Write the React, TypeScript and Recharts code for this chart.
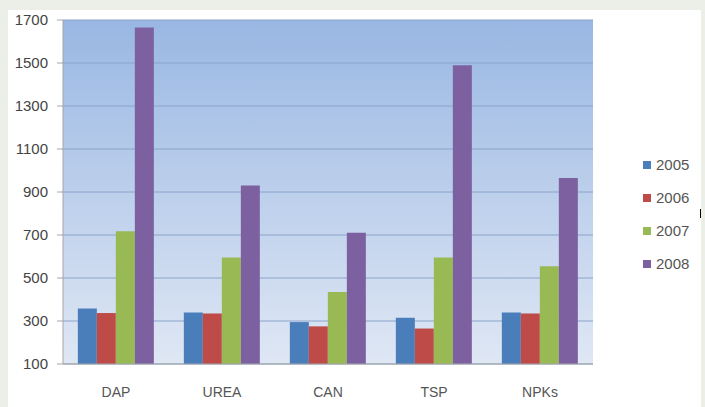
import { BarChart, Bar, XAxis, YAxis, CartesianGrid } from 'recharts';

const categories = ['DAP', 'UREA', 'CAN', 'TSP', 'NPKs'];
const years = ['2005', '2006', '2007', '2008'];
const colors = ['#4a7ebb', '#be4b48', '#98b954', '#7d60a0'];

const v2005 = [358, 340, 295, 315, 340];
const v2006 = [337, 335, 275, 265, 335];
const v2007 = [718, 595, 435, 595, 555];
const v2008 = [1665, 930, 710, 1490, 965];

const yTicks = [100, 300, 500, 700, 900, 1100, 1300, 1500, 1700];

const series = [v2005, v2006, v2007, v2008];

const data = categories.map((name, i) => {
  const row: Record<string, string | number> = { name };
  years.forEach((y, j) => {
    row[y] = series[j][i];
  });
  return row;
});

const font = '"Liberation Sans", Arial, sans-serif';

export default function App() {
  return (
    <div style={{ position: 'fixed', left: 0, top: 0, width: 705, height: 407, background: '#ebefe7' }}>
      <div style={{ position: 'absolute', left: 8, top: 10, width: 693, height: 397, background: '#ffffff' }}>
        <BarChart
          width={693}
          height={397}
          data={data}
          margin={{ top: 10, right: 108, left: 0, bottom: 0 }}
          barCategoryGap="14%"
          barGap={0}
        >
          <defs>
            <linearGradient id="plotBg" x1="0" y1="0" x2="0" y2="1">
              <stop offset="0%" stopColor="#99b7e3" />
              <stop offset="100%" stopColor="#dfe7f4" />
            </linearGradient>
          </defs>
          <CartesianGrid vertical={false} stroke="#8aa4cb" fill="url(#plotBg)" fillOpacity={1} />
          <XAxis
            dataKey="name"
            height={43}
            tickLine={false}
            axisLine={{ stroke: '#a6a6a6' }}
            tick={{ fontSize: 14, fill: '#555555', fontFamily: font }}
            tickMargin={17}
          />
          <YAxis
            width={55}
            domain={[100, 1700]}
            ticks={yTicks}
            interval={0}
            allowDataOverflow
            axisLine={{ stroke: '#a6a6a6' }}
            tickLine={{ stroke: '#a6a6a6' }}
            tickSize={6}
            tickMargin={9}
            tick={{ fontSize: 15, fill: '#444444', fontFamily: font }}
          />
          {years.map((y, j) => (
            <Bar key={y} dataKey={y} fill={colors[j]} isAnimationActive={false} />
          ))}
        </BarChart>
        <div style={{ position: 'absolute', left: 635, top: 138, fontFamily: font }}>
          {years.map((y, j) => (
            <div key={y} style={{ display: 'flex', alignItems: 'center', height: 33 }}>
              <div style={{ width: 8, height: 8, background: colors[j], marginRight: 5 }} />
              <span style={{ fontSize: 15, color: '#555555' }}>{y}</span>
            </div>
          ))}
        </div>
      </div>
      <div style={{ position: 'absolute', left: 700, top: 209, width: 1, height: 9, background: '#000000' }} />
    </div>
  );
}
